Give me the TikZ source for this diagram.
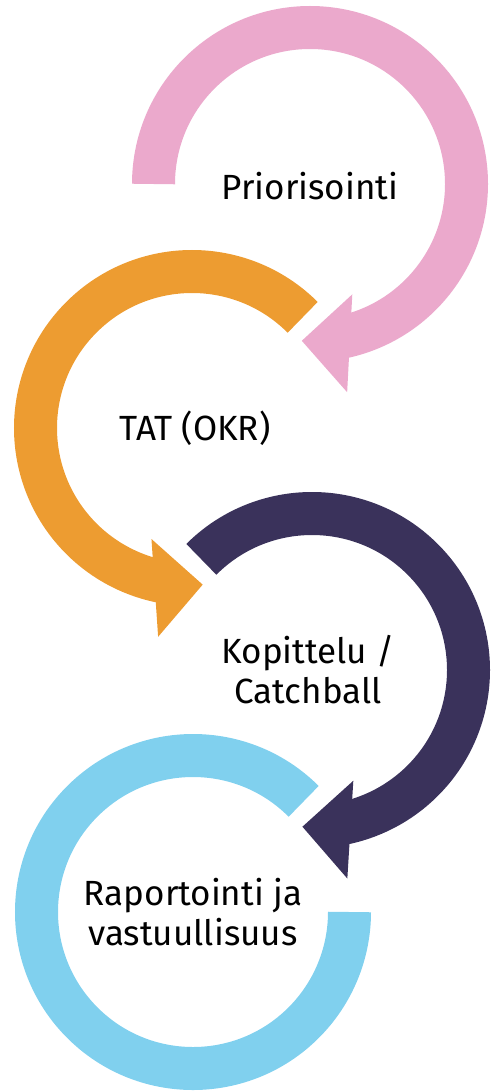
\documentclass[tikz,border=0pt]{standalone}
\usepackage{fontspec}
\setmainfont{Fira Sans}
\usetikzlibrary{calc}
\definecolor{Pink}{HTML}{EBA9CC}
\definecolor{Orange}{HTML}{ED9C31}
\definecolor{Navy}{HTML}{3A325B}
\definecolor{Sky}{HTML}{80D0EE}
\tikzset{
    band/.style={line width=43pt, line cap=butt},
    steplabel/.style={align=center, text=black, font=\fontsize{35}{40}\selectfont},
}

\begin{document}
\begin{tikzpicture}[x=1pt, y=1pt]
        % --- Canvas ---
        \useasboundingbox (0,-1091) rectangle (490,0);

        % --- Ring centres ---
        \coordinate (pinkc)   at (310,-184);
        \coordinate (orangec) at (192,-428);
        \coordinate (navyc)   at (312,-670);
        \coordinate (skyc)    at (193,-912);

        % Arrow heads (tip, then base middle along the tangent)
        \coordinate (pinktip)    at ($(pinkc)+(-93:157)$);
        \coordinate (orangetip)  at ($(orangec)+(273.9:157)$);
        \coordinate (navytip)    at ($(navyc)+(-93.5:157)$);
        \coordinate (pinkbase)   at ($(pinktip)!48pt!-90:(pinkc)$);
        \coordinate (orangebase) at ($(orangetip)!48pt!90:(orangec)$);
        \coordinate (navybase)   at ($(navytip)!48pt!-90:(navyc)$);

        % Bands
        \draw[band, Pink]   ($(pinkc)+(180:156.5)$)  arc[start angle=180, end angle=-79, radius=156.5pt];
        \draw[band, Orange] ($(orangec)+(45:156.5)$) arc[start angle=45, end angle=260, radius=156.5pt];
        \draw[band, Navy]   ($(navyc)+(135:156.5)$)  arc[start angle=135, end angle=-80, radius=156.5pt];
        \draw[band, Sky]    ($(skyc)+(45:156.5)$)    arc[start angle=45, end angle=360, radius=156.5pt];

        % Heads
        \fill[Pink]   ($(pinkbase)!49pt!90:(pinktip)$) -- (pinktip) -- ($(pinkbase)!49pt!-90:(pinktip)$) -- cycle;
        \fill[Orange] ($(orangebase)!49pt!90:(orangetip)$) -- (orangetip) -- ($(orangebase)!49pt!-90:(orangetip)$) -- cycle;
        \fill[Navy]   ($(navybase)!49pt!90:(navytip)$) -- (navytip) -- ($(navybase)!49pt!-90:(navytip)$) -- cycle;

        % Labels
        \node[steplabel] (prio) at ($(pinkc)+(0,-2)$) {Priorisointi};
        \node[steplabel] (tat)  at ($(orangec)+(3,0)$) {TAT (OKR)};
        \node[steplabel] (kopi) at ($(navyc)+(-4,0)$) {Kopittelu /\\Catchball};
        \node[steplabel] (rapo) at ($(skyc)+(0,0)$) {Raportointi ja\\vastuullisuus};
    \end{tikzpicture}
\end{document}
